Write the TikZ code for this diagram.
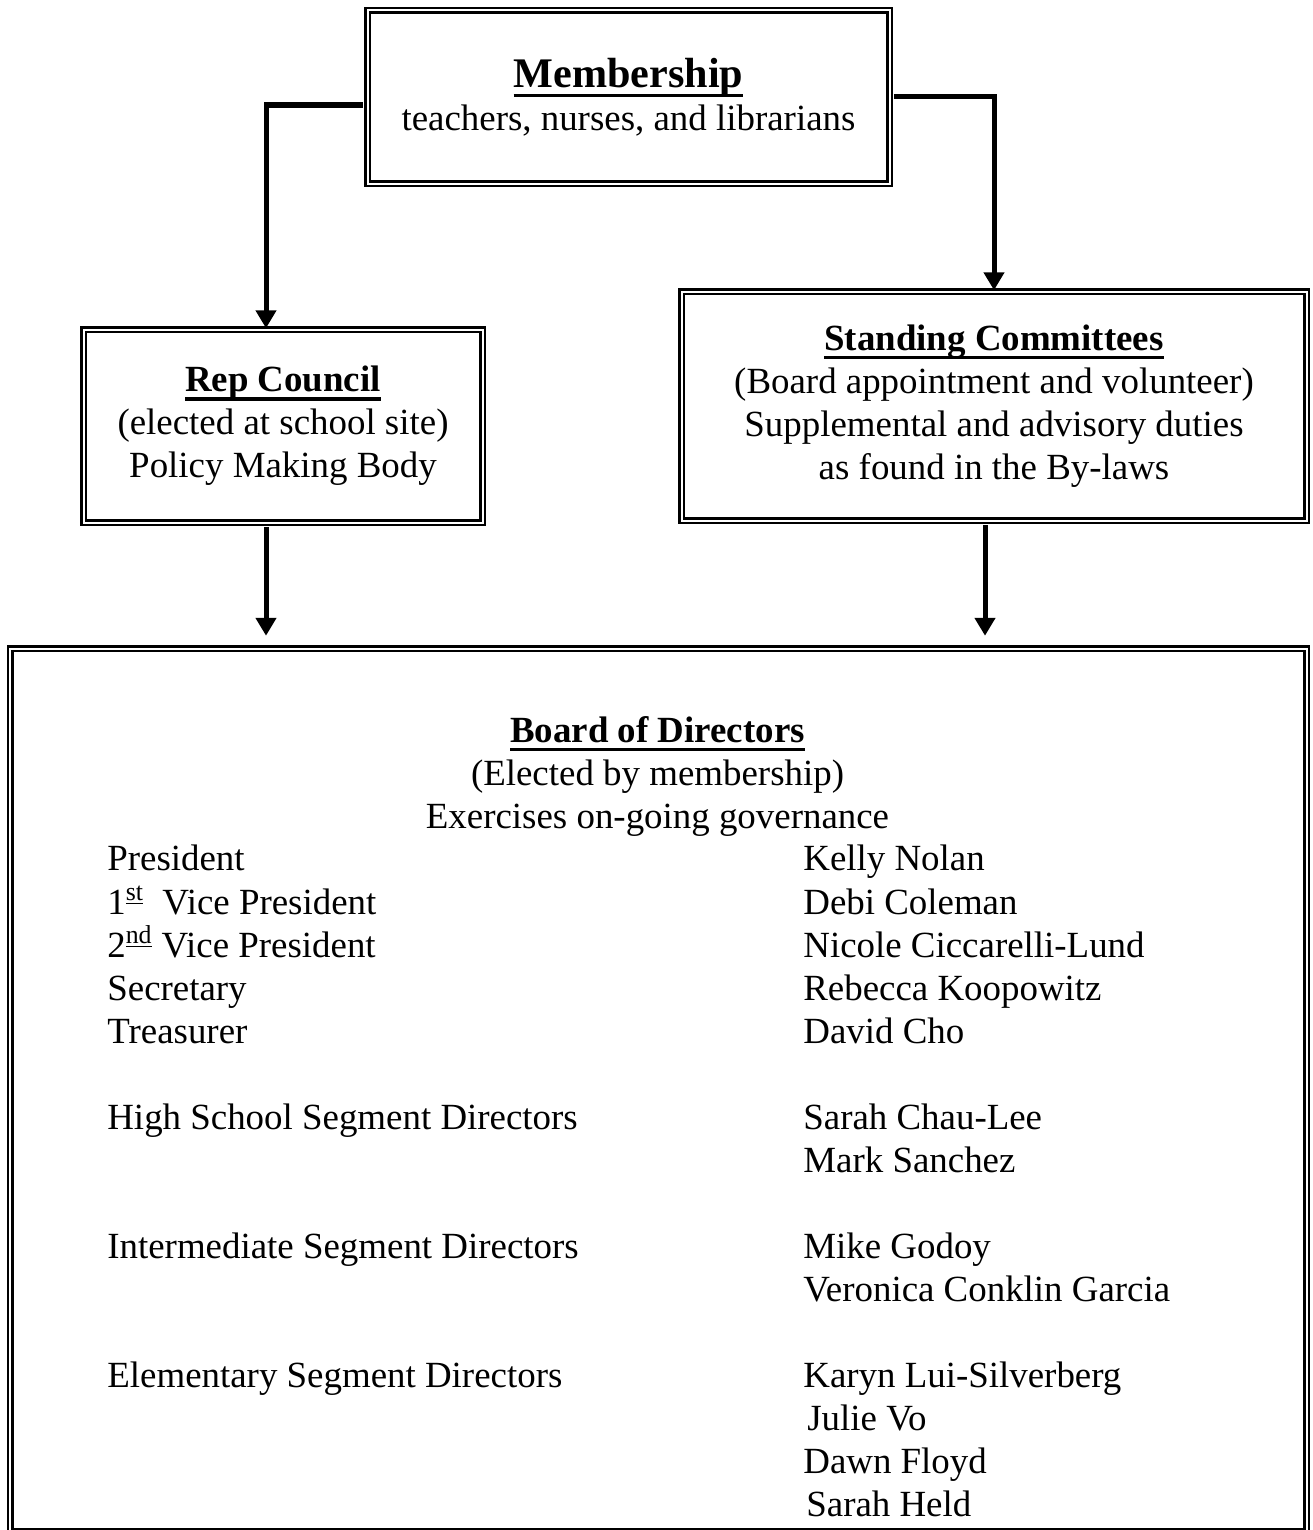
\documentclass[tikz,border=0pt]{standalone}
\usepackage{fontspec}
\setmainfont{Liberation Serif}
\usetikzlibrary{arrows.meta}
\newcommand{\uhead}[1]{\setbox0=\hbox{\bfseries #1}\rlap{\rule[-0.24em]{\wd0}{0.09em}}\box0}

\begin{document}
\begin{tikzpicture}[
    font=\fontsize{21}{24.5}\selectfont,
    box/.style={draw, double, line width=0.05cm, double distance=0.04cm, align=center, inner sep=0pt},
    arrow/.style={-{Triangle[length=0.36cm,width=0.4cm]}, line width=0.1cm, shorten <=0.07cm},
    roster/.style={anchor=north west, align=left, inner sep=0pt}
]
\useasboundingbox (0,0) rectangle (26.24,-30.6);

\node[box, minimum width=10.44cm, minimum height=3.46cm] (member) at (12.57,-1.94)
    {{\fontsize{24}{28}\selectfont\uhead{Membership}}\\teachers, nurses, and librarians};
\node[box, minimum width=7.98cm, minimum height=3.86cm] (rep) at (5.66,-8.52)
    {\uhead{Rep Council}\\(elected at school site)\\Policy Making Body};
\node[box, minimum width=12.5cm, minimum height=4.58cm] (standing) at (19.88,-8.12)
    {\uhead{Standing Committees}\\(Board appointment and volunteer)\\Supplemental and advisory duties\\as found in the By-laws};
\node[box, minimum width=25.92cm, minimum height=17.65cm] (board) at (13.17,-21.795) {};

% board contents
\node[align=center, inner sep=0pt] (bodhead) at (13.15,-15.53)
    {\uhead{Board of Directors}\\(Elected by membership)\\Exercises on-going governance};
\node[roster] (roles) at (2.14,-16.9)
    {President\\
     1\textsuperscript{\underline{st}}\ \ Vice President\\
     2\textsuperscript{\underline{nd}} Vice President\\
     Secretary\\
     Treasurer\\[0.86cm]
     High School Segment Directors\\[1.72cm]
     Intermediate Segment Directors\\[1.72cm]
     Elementary Segment Directors};
\node[roster] (names) at (16.06,-16.9)
    {Kelly Nolan\\
     Debi Coleman\\
     Nicole Ciccarelli-Lund\\
     Rebecca Koopowitz\\
     David Cho\\[0.86cm]
     Sarah Chau-Lee\\
     Mark Sanchez\\[0.86cm]
     Mike Godoy\\
     Veronica Conklin Garcia\\[0.86cm]
     Karyn Lui-Silverberg\\
     \hspace*{0.08cm}Julie Vo\\
     Dawn Floyd\\
     \hspace*{0.06cm}Sarah Held};

\draw[arrow] ([yshift=-0.16cm]member.west) -| ([xshift=-0.34cm]rep.north);
\draw[arrow] (member.east) -| (standing.north);
\draw[arrow, shorten >=0.23cm] ([xshift=-0.34cm]rep.south) -- ([xshift=-0.34cm]rep.south |- board.north);
\draw[arrow, shorten >=0.23cm] ([xshift=-0.18cm]standing.south) -- ([xshift=-0.18cm]standing.south |- board.north);

\end{tikzpicture}
\end{document}
